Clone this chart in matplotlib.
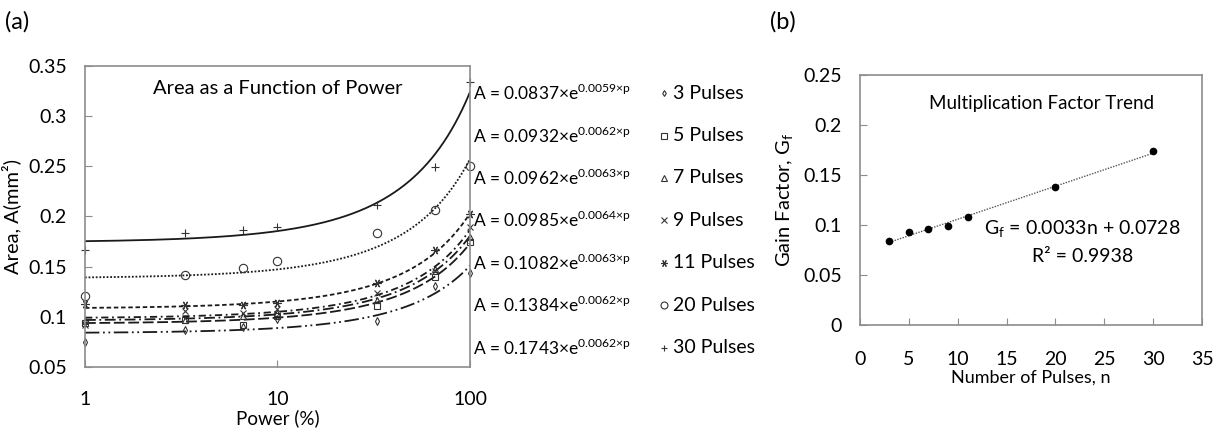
import numpy as np
import matplotlib
matplotlib.use("Agg")
from matplotlib import pyplot as plt
from matplotlib.ticker import FixedLocator, FixedFormatter

plt.rcParams['font.family'] = ['Lato', 'DejaVu Sans']
plt.rcParams['mathtext.fontset'] = 'custom'
plt.rcParams['mathtext.rm'] = 'Lato'

# (a) area vs power
power = [1, 3.3, 6.6, 10, 33, 66, 100]
pulses = ['3 Pulses', '5 Pulses', '7 Pulses', '9 Pulses', '11 Pulses', '20 Pulses', '30 Pulses']
area_3 = [0.075, 0.087, 0.090, 0.098, 0.096, 0.131, 0.144]
area_5 = [0.094, 0.097, 0.092, 0.101, 0.111, 0.140, 0.175]
area_7 = [0.096, 0.097, 0.101, 0.104, 0.117, 0.148, 0.180]
area_9 = [0.092, 0.106, 0.104, 0.108, 0.124, 0.146, 0.190]
area_11 = [0.113, 0.112, 0.112, 0.114, 0.134, 0.167, 0.202]
area_20 = [0.121, 0.142, 0.149, 0.156, 0.184, 0.206, 0.250]
area_30 = [0.167, 0.184, 0.187, 0.190, 0.211, 0.249, 0.334]
fit_a = [0.0837, 0.0932, 0.0962, 0.0985, 0.1082, 0.1384, 0.1743]
fit_b = [0.0059, 0.0062, 0.0063, 0.0064, 0.0063, 0.0062, 0.0062]

# (b) gain factor
n_pulses = [3, 5, 7, 9, 11, 20, 30]
gain = [0.0837, 0.0932, 0.0962, 0.0985, 0.1082, 0.1384, 0.1743]
slope, intercept = 0.0033, 0.0728

areas = [area_3, area_5, area_7, area_9, area_11, area_20, area_30]
markers = ['d', 's', '^', 'x', (6, 2, 90), 'o', '+']
msizes = [4, 5, 5, 5, 6, 6, 6]
styles = [(0, (8, 2, 1, 2, 1, 2)), (0, (6, 2)), (0, (6, 2, 1, 2)), (0, (4, 2, 1, 2)),
          (0, (2.5, 1.5)), (0, (1, 1)), '-']

fig = plt.figure(figsize=(12.17, 4.32), dpi=100)
ax = fig.add_axes([0.0698, 0.1505, 0.3164, 0.6968])
frame = '#8c8c8c'

p = np.linspace(1, 100, 400)
for a, b, vals, m, ms, ls in zip(fit_a, fit_b, areas, markers, msizes, styles):
    ax.plot(p, a * np.exp(b * p), color='#1a1a1a', lw=1.3, ls=ls)
    ax.plot(power, vals, ls='none', marker=m, ms=ms, mfc='none', mec='#333333', mew=0.8,
            clip_on=False)

ax.set_xscale('log')
ax.set_xlim(1, 100)
ax.set_ylim(0.05, 0.35)
ax.xaxis.set_major_locator(FixedLocator([1, 10, 100]))
ax.xaxis.set_major_formatter(FixedFormatter(['1', '10', '100']))
ax.xaxis.set_minor_locator(FixedLocator([]))
ax.set_yticks([0.05, 0.1, 0.15, 0.2, 0.25, 0.3, 0.35])
ax.set_yticklabels(['0.05', '0.1', '0.15', '0.2', '0.25', '0.3', '0.35'])
ax.tick_params(direction='in', length=5, color=frame, labelsize=14, top=False, right=False)
ax.tick_params(axis='x', pad=17)
ax.tick_params(axis='y', pad=13)
for s in ax.spines.values():
    s.set_color(frame)
    s.set_linewidth(1.2)
ax.set_xlabel('Power (%)', fontsize=13.5, labelpad=1)
ax.set_ylabel('Area, A(mm²)', fontsize=14.5, labelpad=5)
ax.text(0.5, 0.925, 'Area as a Function of Power', transform=ax.transAxes,
        fontsize=14.5, ha='center', va='center')

rows = [0.910, 0.769, 0.628, 0.487, 0.346, 0.205, 0.064]
for i, (a, b) in enumerate(zip(fit_a, fit_b)):
    ax.text(1.008, rows[i], 'A = %.4f×e$^{\\mathregular{%.4f×p}}$' % (a, b),
            transform=ax.transAxes, fontsize=12.5, ha='left', va='center')
    ax.plot([1.503], [rows[i]], transform=ax.transAxes, marker=markers[i], ms=msizes[i] - 1,
            mfc='none', mec='#333333', mew=0.8, clip_on=False)
    ax.text(1.527, rows[i], pulses[i], transform=ax.transAxes, fontsize=14,
            ha='left', va='center')

fig.text(0.004, 0.95, '(a)', fontsize=17, ha='left', va='center')

# panel (b)
bx = fig.add_axes([0.7067, 0.2477, 0.281, 0.5787])
nline = np.array([n_pulses[0], n_pulses[-1]])
bx.plot(nline, slope * nline + intercept, color='#555555', lw=1, ls=(0, (1, 1)))
bx.plot(n_pulses, gain, ls='none', marker='o', ms=4.5, color='black')
bx.set_xlim(0, 35)
bx.set_ylim(0, 0.25)
bx.set_xticks([0, 5, 10, 15, 20, 25, 30, 35])
bx.set_yticks([0, 0.05, 0.1, 0.15, 0.2, 0.25])
bx.set_yticklabels(['0', '0.05', '0.1', '0.15', '0.2', '0.25'])
bx.tick_params(direction='in', length=5, color=frame, labelsize=14, top=False, right=False)
bx.tick_params(axis='x', pad=19)
bx.tick_params(axis='y', pad=13)
for s in bx.spines.values():
    s.set_color(frame)
    s.set_linewidth(1.2)
bx.set_xlabel('Number of Pulses, n', fontsize=13, labelpad=1)
bx.set_ylabel(r'Gain Factor, G$_\mathregular{f}$', fontsize=14.5, labelpad=5)
bx.text(0.53, 0.887, 'Multiplication Factor Trend', transform=bx.transAxes,
        fontsize=13.5, ha='center', va='center')
bx.text(0.65, 0.383, r'G$_\mathregular{f}$ = 0.0033n + 0.0728', transform=bx.transAxes,
        fontsize=14, ha='center', va='center')
bx.text(0.65, 0.275, 'R² = 0.9938', transform=bx.transAxes,
        fontsize=14, ha='center', va='center')

fig.text(0.633, 0.95, '(b)', fontsize=17, ha='left', va='center')

fig.savefig('out.png', dpi=100)
